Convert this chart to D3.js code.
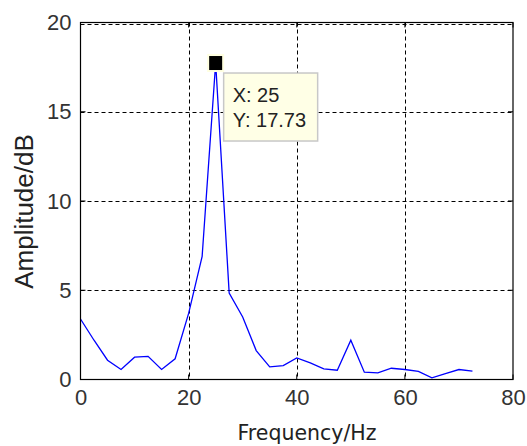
<!DOCTYPE html>
<html>
<head>
<meta charset="utf-8">
<script src="https://cdn.jsdelivr.net/npm/d3@7"></script>
<style>
  html, body { margin: 0; padding: 0; background: #fff; }
  svg { display: block; }
</style>
</head>
<body>
<script>
// ---- data ----
const freq = [0, 2.5, 5, 7.5, 10, 12.5, 15, 17.5, 20, 22.5, 25, 27.5, 30, 32.5, 35,
              37.5, 40, 42.5, 45, 47.5, 50, 52.5, 55, 57.5, 60, 62.5, 65, 67.5, 70, 72.5];
const amp  = [3.39, 2.2, 1.08, 0.56, 1.25, 1.3, 0.56, 1.16, 3.7, 6.9, 17.73, 4.84, 3.5, 1.62, 0.71,
              0.78, 1.21, 0.93, 0.6, 0.52, 2.2, 0.41, 0.37, 0.63, 0.56, 0.45, 0.09, 0.33, 0.56, 0.47];
const xTicks = [0, 20, 40, 60, 80];
const yTicks = [0, 5, 10, 15, 20];
const xLabel = "Frequency/Hz";
const yLabel = "Amplitude/dB";
const tipPoint = { x: 25, y: 17.73 };
const tipLines = ["X: 25", "Y: 17.73"];

// ---- layout ----
(function () {
const W = 527, H = 446;
const pL = 80.5, pR = 513, pT = 22.5, pB = 379.5;

const svg = d3.select("body").append("svg").attr("width", W).attr("height", H);

const x = d3.scaleLinear().domain([0, 80]).range([pL, pR]);
const y = d3.scaleLinear().domain([0, 20]).range([pB, pT]);

// grid (dashed)
const grid = svg.append("g");
grid.selectAll("line.gx").data(xTicks.slice(1, -1)).join("line")
  .attr("x1", d => Math.round(x(d)) + 0.5).attr("x2", d => Math.round(x(d)) + 0.5)
  .attr("y1", pT).attr("y2", pB)
  .attr("stroke", "#000").attr("stroke-width", 1).attr("stroke-dasharray", "4,3");
grid.selectAll("line.gy").data(yTicks.slice(1, -1)).join("line")
  .attr("y1", d => Math.round(y(d)) + 0.5).attr("y2", d => Math.round(y(d)) + 0.5)
  .attr("x1", pL).attr("x2", pR)
  .attr("stroke", "#000").attr("stroke-width", 1).attr("stroke-dasharray", "4,3");
// top grid line just inside the box
svg.append("line").attr("x1", pL).attr("x2", pR).attr("y1", pT + 2).attr("y2", pT + 2)
  .attr("stroke", "#000").attr("stroke-dasharray", "4,3");

// data line
const line = d3.line().x((d, i) => x(freq[i])).y(d => y(d));
svg.append("path").datum(amp)
  .attr("d", line)
  .attr("fill", "none")
  .attr("stroke", "#0000FF")
  .attr("stroke-width", 1.3)
  .attr("stroke-linejoin", "miter");

// axes box
svg.append("rect")
  .attr("x", pL).attr("y", pT)
  .attr("width", pR - pL).attr("height", pB - pT)
  .attr("fill", "none").attr("stroke", "#000").attr("stroke-width", 1.2);

// axes tick labels
const xAxis = d3.axisBottom(x).tickValues(xTicks).tickSize(0).tickPadding(10).tickFormat(d3.format("d"));
const gx = svg.append("g").attr("transform", `translate(0,${pB})`).call(xAxis);
gx.select(".domain").remove();
gx.selectAll("text").attr("font-family", "'Liberation Sans', Arial, sans-serif")
  .attr("font-size", 22).attr("fill", "#333");

const yAxis = d3.axisLeft(y).tickValues(yTicks).tickSize(0).tickPadding(9).tickFormat(d3.format("d"));
const gy = svg.append("g").attr("transform", `translate(${pL},0)`).call(yAxis);
gy.select(".domain").remove();
gy.selectAll("text").attr("font-family", "'Liberation Sans', Arial, sans-serif")
  .attr("font-size", 22).attr("fill", "#333");

// inner tick marks
const tk = svg.append("g").attr("stroke", "#000").attr("stroke-width", 1);
xTicks.forEach(d => {
  tk.append("line").attr("x1", x(d)).attr("x2", x(d)).attr("y1", pB).attr("y2", pB - 5);
  tk.append("line").attr("x1", x(d)).attr("x2", x(d)).attr("y1", pT).attr("y2", pT + 5);
});
yTicks.forEach(d => {
  tk.append("line").attr("y1", y(d)).attr("y2", y(d)).attr("x1", pL).attr("x2", pL + 5);
  tk.append("line").attr("y1", y(d)).attr("y2", y(d)).attr("x1", pR).attr("x2", pR - 5);
});

// axis titles
svg.append("text")
  .attr("x", 307).attr("y", 440)
  .attr("text-anchor", "middle")
  .attr("font-family", "'DejaVu Sans', Verdana, sans-serif")
  .attr("font-size", 20.5)
  .attr("fill", "#222")
  .text(xLabel);

svg.append("text")
  .attr("transform", `translate(33,${(128 + 295) / 2}) rotate(-90)`)
  .attr("text-anchor", "middle")
  .attr("font-family", "'Liberation Sans', Arial, sans-serif")
  .attr("font-size", 26)
  .attr("fill", "#222")
  .text(yLabel);

// datatip
const px = x(tipPoint.x), py = y(tipPoint.y);
svg.append("rect")
  .attr("x", px - 8.5).attr("y", py - 9).attr("width", 17).attr("height", 18)
  .attr("fill", "#FFFFE1");
svg.append("rect")
  .attr("x", px - 6.5).attr("y", py - 7).attr("width", 13).attr("height", 14)
  .attr("fill", "#000");

const bx = px + 8, by = py + 10;
svg.append("rect")
  .attr("x", bx).attr("y", by).attr("width", 94).attr("height", 68)
  .attr("fill", "#FFFFE6").attr("stroke", "#C8C8C8").attr("stroke-width", 1.5);
svg.append("g").selectAll("text").data(tipLines).join("text")
  .attr("x", bx + 9)
  .attr("y", (d, i) => by + 29 + i * 24.5)
  .attr("font-family", "'Liberation Sans', Arial, sans-serif")
  .attr("font-size", 20)
  .attr("fill", "#222")
  .text(d => d);
})();
</script>
</body>
</html>
